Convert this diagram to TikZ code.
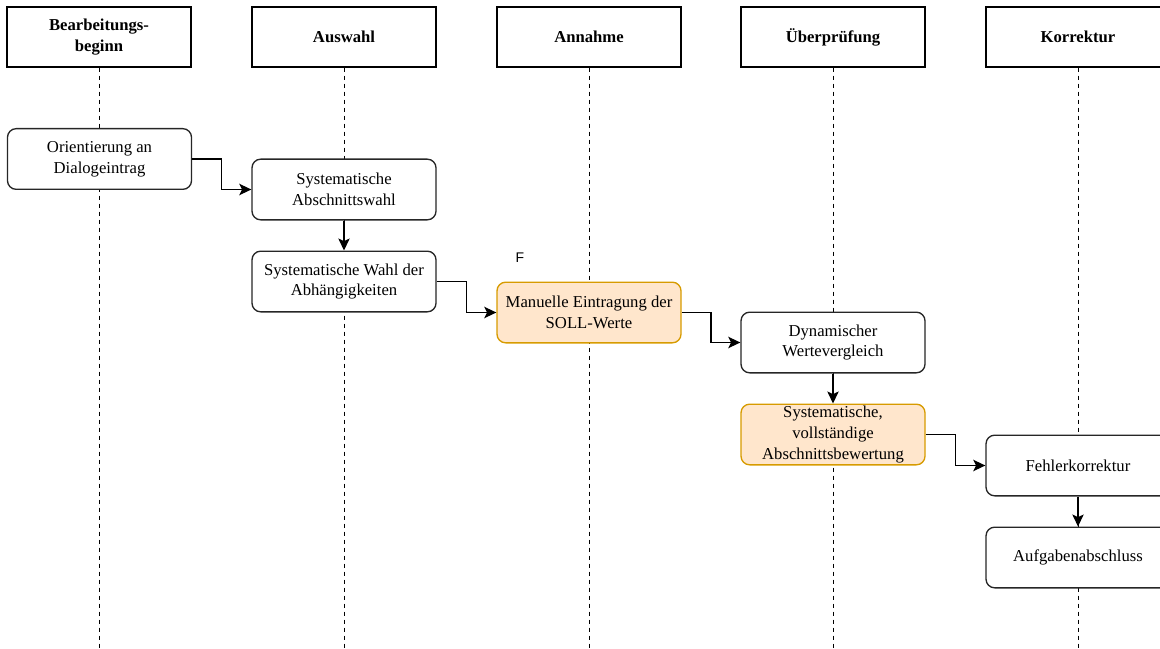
\documentclass[tikz,border=0pt]{standalone}
\usepackage{fontspec}
\setmainfont{Liberation Serif}
\newfontfamily\labelsans{Liberation Sans}
\usetikzlibrary{calc,arrows.meta}
\definecolor{noteFill}{HTML}{FFE6CC}
\definecolor{noteLine}{HTML}{D79B00}
\tikzset{
  lane/.style={draw=black, line width=1.1pt, fill=white, minimum width=138pt,
    minimum height=45pt, align=center, font=\fontsize{12.5}{16}\selectfont\bfseries},
  lifeline/.style={draw=black, line width=0.75pt, dash pattern=on 3pt off 3pt},
  stepbox/.style={draw=black!85, line width=1pt, fill=white, rounded corners=6.5pt,
    minimum width=138pt, minimum height=45.5pt, inner sep=1.5pt, align=center,
    font=\fontsize{12.5}{15.5}\selectfont},
  notebox/.style={stepbox, draw=noteLine, fill=noteFill},
  flow/.style={draw=black, line width=1pt,
    -{Stealth[length=9pt,width=8.5pt,inset=2pt]}}
}
\begin{document}
\begin{tikzpicture}[x=0.75pt, y=-0.75pt]
  \useasboundingbox (0,0) rectangle (1160,649);
  \clip (0,0) rectangle (1160,649);

  % lane headers
  \node[lane] (h1) at (99,37)   {Bearbeitungs-\\beginn};
  \node[lane] (h2) at (344,37)  {Auswahl};
  \node[lane] (h3) at (589,37)  {Annahme};
  \node[lane] (h4) at (833,37)  {Überprüfung};
  \node[lane] (h5) at (1078,37) {Korrektur};

  % lifelines
  \coordinate (e1) at (99,649);
  \coordinate (e2) at (344,649);
  \coordinate (e3) at (589,649);
  \coordinate (e4) at (833,649);
  \coordinate (e5) at (1078,649);
  \foreach \i in {1,...,5} \draw[lifeline] (h\i.south) -- (e\i);

  % process steps
  \node[stepbox] (o1) at (99.5,159)  {Orientierung an\\Dialogeintrag};
  \node[stepbox] (a1) at (344,189.5) {Systematische\\Abschnittswahl};
  \node[stepbox] (a2) at (344,281.5) {Systematische Wahl der\\Abhängigkeiten};
  \node[notebox] (m1) at (589,312.5) {Manuelle Eintragung der\\SOLL-Werte};
  \node[stepbox] (d1) at (833,342.5) {Dynamischer\\Wertevergleich};
  \node[notebox] (s1) at (833,434.5) {Systematische,\\vollständige\\Abschnittsbewertung};
  \node[stepbox] (f1) at (1078,465.5) {Fehlerkorrektur};
  \node[stepbox] (g1) at (1078,557.5) {Aufgabenabschluss};

  \node[font=\labelsans\fontsize{10.5}{12}\selectfont] (fl) at (520,258) {F};

  % connectors
  \draw[flow] (o1.east) -| ($(o1.east)!0.5!(a1.west)$) |- (a1.west);
  \draw[flow] (a1.south) -- (a2.north);
  \draw[flow] (a2.east) -| ($(a2.east)!0.5!(m1.west)$) |- (m1.west);
  \draw[flow] (m1.east) -| ($(m1.east)!0.5!(d1.west)$) |- (d1.west);
  \draw[flow] (d1.south) -- (s1.north);
  \draw[flow] (s1.east) -| ($(s1.east)!0.5!(f1.west)$) |- (f1.west);
  \draw[flow] (f1.south) -- (g1.north);
\end{tikzpicture}
\end{document}
